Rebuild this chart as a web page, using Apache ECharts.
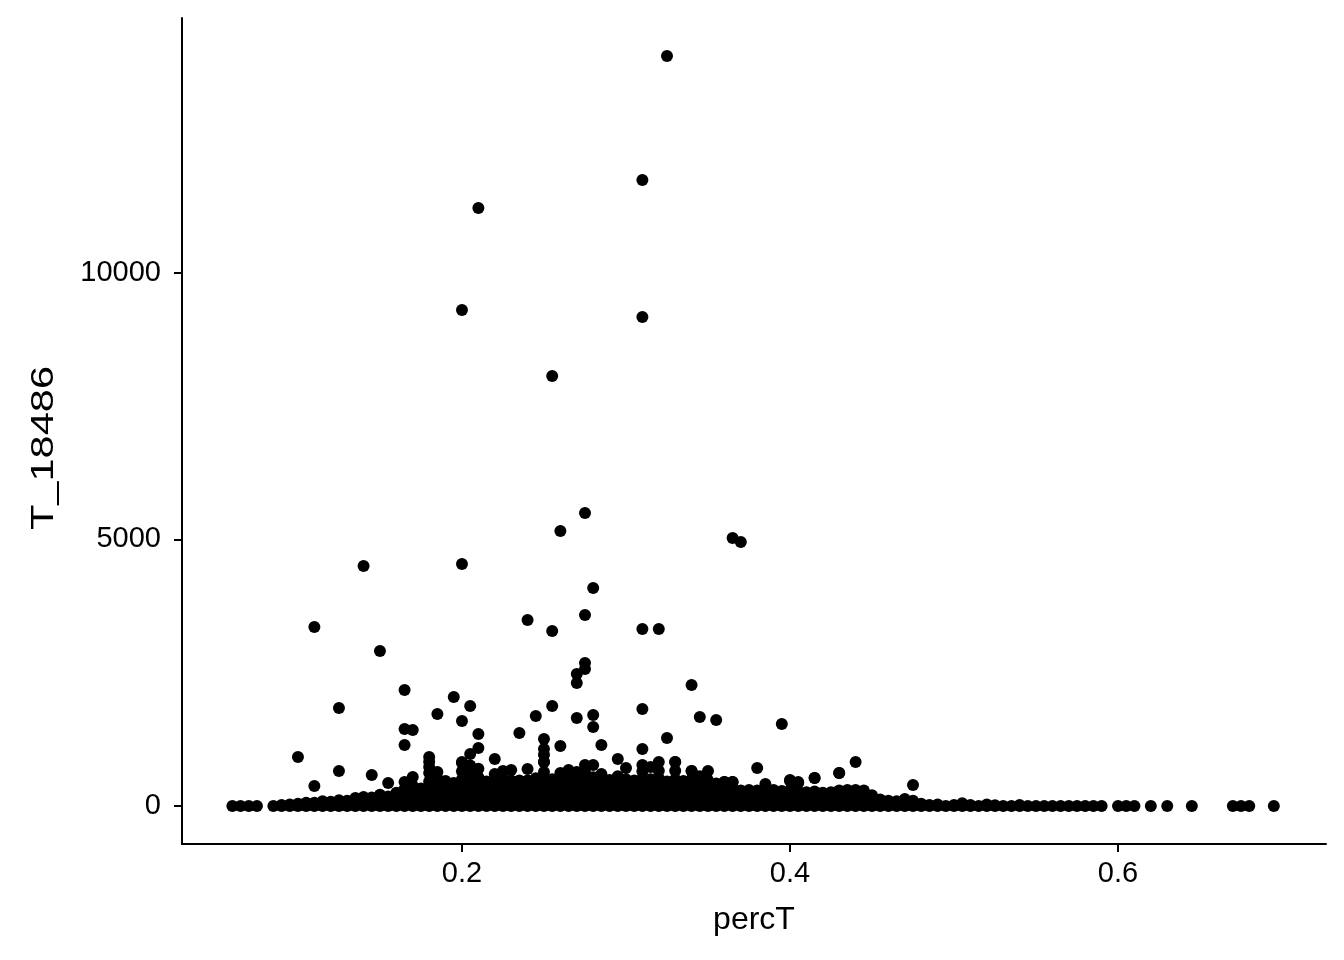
<!DOCTYPE html>
<html>
<head>
<meta charset="utf-8">
<script src="https://cdn.jsdelivr.net/npm/echarts@6/dist/echarts.min.js"></script>
<style>
html,body{margin:0;padding:0;background:#fff;}
#chart{width:1344px;height:960px;}
</style>
</head>
<body>
<div id="chart"></div>
<script>
// ---- data ----
const xTicks = [0.2, 0.4, 0.6];
const yTicks = [0, 5000, 10000];
const xName = 'percT';
const yName = 'T_18486';

// points lying on T_18486 = 0
const zeroRowX = [0.06,0.065,0.07,0.075,
  0.085,0.09,0.095,0.1,0.105,0.11,0.115,0.12,0.125,0.13,0.135,0.14,0.145,0.15,0.155,0.16,
  0.165,0.17,0.175,0.18,0.185,0.19,0.195,0.2,0.205,0.21,0.215,0.22,0.225,0.23,0.235,0.24,
  0.245,0.25,0.255,0.26,0.265,0.27,0.275,0.28,0.285,0.29,0.295,0.3,0.305,0.31,0.315,0.32,
  0.325,0.33,0.335,0.34,0.345,0.35,0.355,0.36,0.365,0.37,0.375,0.38,0.385,0.39,0.395,0.4,
  0.405,0.41,0.415,0.42,0.425,0.43,0.435,0.44,0.445,0.45,0.455,0.46,0.465,0.47,0.475,0.48,
  0.485,0.49,0.495,0.5,0.505,0.51,0.515,0.52,0.525,0.53,0.535,0.54,0.545,0.55,0.555,0.56,
  0.565,0.57,0.575,0.58,0.585,0.59,
  0.6,0.605,0.61,0.62,0.63,0.645,0.67,0.675,0.68,0.695];

// dense band of small values [percT, T_18486]
const bandPoints = [
  [0.09,20],[0.095,30],[0.1,40],[0.105,30],[0.105,60],[0.11,60],[0.115,50],[0.115,90],
  [0.12,80],[0.125,60],[0.125,110],[0.13,100],[0.13,40],[0.135,150],[0.135,70],
  [0.14,120],[0.14,170],[0.145,90],[0.145,160],[0.15,140],[0.15,210],[0.15,60],
  [0.155,180],[0.155,430],[0.155,90],[0.16,120],[0.16,250],[0.16,190],
  [0.165,100],[0.165,200],[0.165,320],[0.165,450],
  [0.17,150],[0.17,260],[0.17,380],[0.17,544],
  [0.175,120],[0.175,230],[0.175,330],
  [0.18,110],[0.18,220],[0.18,340],[0.18,460],[0.18,619],[0.18,732],[0.18,830],
  [0.185,140],[0.185,280],[0.185,400],[0.185,520],[0.185,638],
  [0.19,120],[0.19,250],[0.19,370],[0.19,470],
  [0.195,90],[0.195,210],[0.195,330],[0.195,430],
  [0.2,130],[0.2,260],[0.2,380],[0.2,500],[0.2,650],[0.2,807],
  [0.205,110],[0.205,240],[0.205,360],[0.205,480],[0.205,620],[0.205,760],
  [0.21,150],[0.21,280],[0.21,410],[0.21,540],[0.21,700],
  [0.215,120],[0.215,230],[0.215,350],[0.215,460],
  [0.22,100],[0.22,220],[0.22,340],[0.22,470],[0.22,600],
  [0.225,140],[0.225,260],[0.225,380],[0.225,520],[0.225,657],
  [0.23,110],[0.23,240],[0.23,360],[0.23,480],[0.23,675],
  [0.235,130],[0.235,250],[0.235,380],[0.235,480],
  [0.24,120],[0.24,230],[0.24,350],[0.24,480],[0.24,694],
  [0.245,140],[0.245,260],[0.245,390],[0.245,520],
  [0.25,100],[0.25,230],[0.25,360],[0.25,500],[0.25,640],[0.25,825],[0.25,960],
  [0.255,130],[0.255,250],[0.255,380],[0.255,500],
  [0.26,110],[0.26,240],[0.26,370],[0.26,500],[0.26,620],
  [0.265,150],[0.265,270],[0.265,400],[0.265,530],[0.265,675],
  [0.27,120],[0.27,250],[0.27,380],[0.27,520],[0.27,640],
  [0.275,100],[0.275,230],[0.275,360],[0.275,500],[0.275,640],[0.275,769],
  [0.28,140],[0.28,270],[0.28,400],[0.28,540],[0.28,769],
  [0.285,110],[0.285,240],[0.285,360],[0.285,480],[0.285,600],
  [0.29,130],[0.29,260],[0.29,380],[0.29,490],
  [0.295,120],[0.295,240],[0.295,370],[0.295,470],[0.295,560],
  [0.3,100],[0.3,230],[0.3,360],[0.3,500],[0.3,713],
  [0.305,140],[0.305,260],[0.305,390],[0.305,480],
  [0.31,120],[0.31,250],[0.31,380],[0.31,520],[0.31,650],[0.31,769],
  [0.315,110],[0.315,240],[0.315,360],[0.315,500],[0.315,732],
  [0.32,130],[0.32,260],[0.32,380],[0.32,520],[0.32,660],[0.32,825],
  [0.325,100],[0.325,220],[0.325,340],[0.325,460],
  [0.33,120],[0.33,250],[0.33,370],[0.33,500],[0.33,660],[0.33,825],
  [0.335,110],[0.335,230],[0.335,350],[0.335,470],
  [0.34,130],[0.34,250],[0.34,370],[0.34,500],[0.34,657],
  [0.345,100],[0.345,220],[0.345,330],[0.345,450],[0.345,560],
  [0.35,120],[0.35,240],[0.35,360],[0.35,480],[0.35,657],
  [0.355,100],[0.355,210],[0.355,320],[0.355,420],
  [0.36,90],[0.36,200],[0.36,310],[0.36,450],
  [0.365,110],[0.365,220],[0.365,330],[0.365,450],
  [0.37,80],[0.37,190],[0.37,290],
  [0.375,100],[0.375,200],[0.375,300],
  [0.38,90],[0.38,190],[0.38,290],
  [0.385,70],[0.385,180],[0.385,280],[0.385,413],
  [0.39,100],[0.39,200],[0.39,300],
  [0.395,80],[0.395,190],[0.395,280],
  [0.4,90],[0.4,190],[0.4,290],[0.4,488],
  [0.405,70],[0.405,170],[0.405,270],[0.405,450],
  [0.41,80],[0.41,180],[0.41,260],
  [0.415,90],[0.415,190],[0.415,270],[0.415,525],
  [0.42,70],[0.42,160],[0.42,250],
  [0.425,80],[0.425,180],[0.425,260],
  [0.43,90],[0.43,190],[0.43,290],[0.43,619],
  [0.435,80],[0.435,180],[0.435,300],
  [0.44,100],[0.44,200],[0.44,300],
  [0.445,80],[0.445,190],[0.445,290],
  [0.45,70],[0.45,150],[0.45,200],
  [0.455,60],[0.455,120],[0.46,50],[0.46,100],[0.465,40],[0.465,90],
  [0.47,60],[0.47,130],[0.475,50],[0.475,100],[0.48,40],[0.485,20],[0.49,30],
  [0.5,20],[0.505,50],[0.51,20],[0.52,30],[0.525,15],[0.54,20]
];

// scattered larger values [percT, T_18486]
const outlierPoints = [
  [0.325,14070],[0.31,11744],[0.21,11219],[0.2,9305],[0.31,9174],[0.255,8067],
  [0.275,5497],[0.26,5159],[0.365,5028],[0.37,4953],[0.14,4503],[0.2,4540],
  [0.28,4090],[0.24,3489],[0.275,3583],[0.11,3358],[0.255,3283],[0.31,3320],
  [0.32,3320],[0.15,2908],[0.275,2683],[0.275,2570],[0.27,2476],[0.27,2307],
  [0.34,2270],[0.165,2176],[0.195,2045],[0.205,1876],[0.125,1838],[0.255,1876],
  [0.31,1820],[0.185,1726],[0.245,1688],[0.28,1707],[0.27,1651],[0.345,1670],
  [0.355,1613],[0.2,1595],[0.395,1538],[0.17,1426],[0.165,1445],[0.21,1351],
  [0.235,1370],[0.25,1257],[0.325,1276],[0.165,1144],[0.25,1069],[0.21,1088],
  [0.31,1069],[0.26,1126],[0.285,1144],[0.28,1482],[0.1,919],[0.18,919],
  [0.205,976],[0.295,882],[0.22,882],[0.44,825],[0.43,619],[0.38,713],
  [0.125,657],[0.145,582],[0.4,469],[0.405,431],[0.415,525],[0.475,394],
  [0.11,375],[0.25,825],[0.36,450],[0.365,450],[0.2,825],[0.33,825],[0.34,657]
];

// ---- chart ----
const points = zeroRowX.map(x => [x, 0]).concat(bandPoints, outlierPoints);

const font = '"Liberation Sans", Arial, Helvetica, sans-serif';
const chart = echarts.init(document.getElementById('chart'), null, {renderer: 'canvas'});
chart.setOption({
  animation: false,
  backgroundColor: '#ffffff',
  grid: {left: 182, right: 18, top: 18, bottom: 116, containLabel: false},
  graphic: [{
    type: 'text',
    x: 44, y: 448,
    rotation: Math.PI / 2,
    scaleX: 1.3,
    silent: true,
    style: {
      text: yName,
      fill: '#000',
      font: '32px "Liberation Sans", Arial, Helvetica, sans-serif',
      align: 'center',
      verticalAlign: 'middle'
    }
  }],
  xAxis: {
    type: 'value',
    min: 0.0293, max: 0.7268,
    name: xName,
    nameLocation: 'middle',
    nameGap: 60,
    nameTextStyle: {color: '#000', fontSize: 32, fontFamily: font},
    axisLine: {show: true, onZero: false, lineStyle: {color: '#000', width: 2}},
    axisTick: {show: true, length: 8, lineStyle: {color: '#000', width: 2}, customValues: xTicks},
    axisLabel: {color: '#000', fontSize: 29, fontFamily: font, margin: 15, customValues: xTicks,
      formatter: v => String(v)},
    splitLine: {show: false}
  },
  yAxis: {
    type: 'value',
    min: -713, max: 14784,
    axisLine: {show: true, onZero: false, lineStyle: {color: '#000', width: 2}},
    axisTick: {show: true, length: 8, lineStyle: {color: '#000', width: 2}, customValues: yTicks},
    axisLabel: {color: '#000', fontSize: 29, fontFamily: font, margin: 21, customValues: yTicks,
      formatter: v => String(v)},
    splitLine: {show: false}
  },
  series: [{
    type: 'scatter',
    name: yName,
    data: points,
    symbol: 'circle',
    symbolSize: 12,
    itemStyle: {color: '#000', opacity: 1},
    emphasis: {disabled: true}
  }]
});
</script>
</body>
</html>
